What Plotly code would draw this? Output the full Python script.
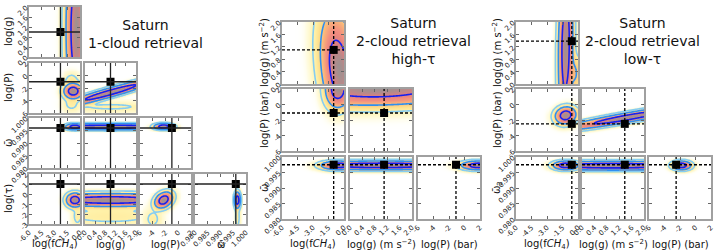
import numpy as np
import plotly.graph_objects as go

W, H = 717, 252

# ---------------- data ----------------
RANGES = {'f': [-6, 0], 'g': [0, 2], 'P': [-6, 2], 'w': [0.98, 1.0], 't': [-3, 2]}
TICKVALS = {
    'f': [-6, -4.5, -3, -1.5, 0],
    'g': [0, 0.4, 0.8, 1.2, 1.6, 2.0],
    'P': [-6, -4, -2, 0, 2],
    'w': [0.98, 0.985, 0.99, 0.995, 1.0],
    't': [-3, -2, -1, 0, 1, 2],
}
TICKTEXT = {
    'f': ['-6.0', '-4.5', '-3.0', '-1.5', '0.0'],
    'g': ['0.0', '0.4', '0.8', '1.2', '1.6', '2.0'],
    'P': ['-6', '-4', '-2', '0', '2'],
    'w': ['0.980', '0.985', '0.990', '0.995', '1.000'],
    't': ['-3', '-2', '-1', '0', '1', '2'],
}

# titles
TITLE_1 = "Saturn<br>1-cloud retrieval"
TITLE_2 = "Saturn<br>2-cloud retrieval<br>high-τ"
TITLE_3 = "Saturn<br>2-cloud retrieval<br>low-τ"

# axis labels
LAB_1 = {'f': "log(f<i>CH</i><sub>4</sub>)", 'g': "log(g)", 'P': "log(P)", 'w': "ω̄", 't': "log(τ)"}
LAB_2 = {'f': "log(f<i>CH</i><sub>4</sub>)", 'g': "log(g) (m s<sup>−2</sup>)", 'P': "log(P) (bar)", 'w': "ω̄"}
LAB_3 = {'f': "log(f<i>CH</i><sub>4</sub>)", 'g': "log(g) (m s<sup>−2</sup>)", 'P': "log(P) (bar)", 'w': "ω̄<sub>2</sub>"}

# true values (marker / crosshair)
TRUTH_1 = {'f': -2.3, 'g': 1.0, 'P': -1.0, 'w': 0.996, 't': 1.0}
TRUTH_2 = {'f': -1.0, 'g': 1.1, 'P': -1.1, 'w': 0.9975}
TRUTH_3 = {'f': -0.6, 'g': 1.38, 'P': -2.5, 'w': 0.9975}

# posterior density blobs per panel: (y var, x var) -> [(mx, my, sx, sy, rho, weight)]
POST_1 = {
    ('g', 'f'): [(-0.45, 1.1, 0.6, 1.7, 0.0, 1.0)],
    ('P', 'f'): [(-0.8, -2.5, 0.55, 0.6, 0.0, 1.0), (-1.0, -4.6, 0.6, 0.7, 0.0, 0.03), (-1.0, -0.8, 0.5, 0.7, 0.0, 0.04)],
    ('P', 'g'): [(1.0, -2.7, 1.0, 1.2, 0.95, 1.0), (1.0, -5.0, 1.2, 0.5, 0.0, 0.025)],
    ('w', 'f'): [(-0.6, 0.9965, 0.55, 0.0006, 0.0, 1.0)],
    ('w', 'g'): [(1.0, 0.9965, 1.6, 0.0006, 0.0, 1.0)],
    ('w', 'P'): [(-2.3, 0.9966, 0.75, 0.0006, 0.0, 1.0)],
    ('t', 'f'): [(-0.6, -0.6, 0.5, 0.35, 0.0, 1.0), (-0.3, -2.2, 0.4, 0.7, 0.0, 0.03)],
    ('t', 'g'): [(1.0, -0.6, 1.6, 0.32, 0.0, 1.0), (1.0, -2.2, 1.5, 0.6, 0.0, 0.03)],
    ('t', 'P'): [(-2.3, -0.6, 0.7, 0.4, 0.3, 1.0), (-4.0, -2.5, 0.8, 0.6, 0.0, 0.03)],
    ('t', 'w'): [(0.9966, -0.6, 0.0006, 0.4, 0.0, 1.0), (0.9966, -2.3, 0.0006, 0.7, 0.0, 0.04)],
}
POST_2 = {
    ('g', 'f'): [(-0.5, 0.5, 0.9, 0.9, -0.3, 1.0)],
    ('P', 'f'): [(-0.6, 2.0, 0.6, 1.2, 0.0, 1.0)],
    ('P', 'g'): [(0.9, 2.1, 1.6, 1.1, 0.1, 1.0)],
    ('w', 'f'): [(-0.5, 0.9973, 0.85, 0.0007, 0.0, 1.0)],
    ('w', 'g'): [(1.0, 0.9973, 1.6, 0.0007, 0.0, 1.0)],
    ('w', 'P'): [(1.8, 0.9973, 1.1, 0.0007, 0.0, 1.0)],
}
POST_3 = {
    ('g', 'f'): [(-1.2, 1.2, 0.35, 1.3, 0.15, 1.0), (-0.3, 0.35, 0.3, 0.3, 0.0, 0.15)],
    ('P', 'f'): [(-1.2, -1.4, 0.5, 0.55, 0.1, 1.0)],
    ('P', 'g'): [(1.5, -1.65, 1.1, 0.83, 0.93, 1.0)],
    ('w', 'f'): [(-1.2, 0.9973, 0.6, 0.0007, 0.0, 1.0)],
    ('w', 'g'): [(1.0, 0.9972, 1.6, 0.0007, 0.0, 1.0)],
    ('w', 'P'): [(-1.8, 0.9973, 0.6, 0.0007, 0.0, 1.0)],
}

# ---------------- layout of the three corner plots (pixels) ----------------
PLOTS = [
    dict(vars=['f', 'g', 'P', 'w', 't'], truth=TRUTH_1, post=POST_1, lab=LAB_1, title=TITLE_1,
         cols=[29, 85, 140, 195], rows=[7, 63, 118, 174], w=51, h=50,
         ylab_x=8, title_xy=(145, 34), dash='solid'),
    dict(vars=['f', 'g', 'P', 'w'], truth=TRUTH_2, post=POST_2, lab=LAB_2, title=TITLE_2,
         cols=[282, 350, 418], rows=[22, 89, 157], w=62, h=62,
         ylab_x=264, title_xy=(413, 41), dash='3px,2px'),
    dict(vars=['f', 'g', 'P', 'w'], truth=TRUTH_3, post=POST_3, lab=LAB_3, title=TITLE_3,
         cols=[516, 582, 649], rows=[22, 89, 157], w=62, h=62,
         ylab_x=497, title_xy=(642, 41), dash='3px,2px'),
]

LEVELS = [0.02, 0.14, 0.6]
LEVEL_COLORS = ['#86cdf2', '#2f8ff0', '#1420f0']
CSCALE = [
    [0.0, 'rgba(255,255,255,0)'],
    [0.08, 'rgba(255,252,225,1)'],
    [0.22, '#fff1a8'],
    [0.38, '#fddc88'],
    [0.52, '#f9b77a'],
    [0.7, '#f28c7f'],
    [0.85, '#dc7f80'],
    [1.0, '#a09090'],
]
FONT = "DejaVu Sans"


def density(blobs, xr, yr, n=60):
    x = np.linspace(xr[0], xr[1], n)
    y = np.linspace(yr[0], yr[1], n)
    X, Y = np.meshgrid(x, y)
    Z = np.zeros_like(X)
    for mx, my, sx, sy, rho, wgt in blobs:
        u = (X - mx) / sx
        v = (Y - my) / sy
        q = (u * u - 2 * rho * u * v + v * v) / (1 - rho * rho)
        Z += wgt * np.exp(-0.5 * q)
    Z = Z / Z.max()
    return x, y, Z


fig = go.Figure()
layout = {}
annotations = []
shapes = []
n = 0
for P in PLOTS:
    vs = P['vars']
    nv = len(vs)
    for i in range(1, nv):
        for j in range(i):
            n += 1
            xv, yv = vs[j], vs[i]
            x0 = P['cols'][j]
            y0 = P['rows'][i - 1]
            xd = [x0 / W, (x0 + P['w']) / W]
            yd = [1 - (y0 + P['h']) / H, 1 - y0 / H]
            xk = 'xaxis' if n == 1 else f'xaxis{n}'
            yk = 'yaxis' if n == 1 else f'yaxis{n}'
            xr = 'x' if n == 1 else f'x{n}'
            yr = 'y' if n == 1 else f'y{n}'
            bottom = (i == nv - 1)
            left = (j == 0)
            common = dict(showline=True, linecolor='#a0a0a0', linewidth=1.5, mirror='allticks',
                          ticks='inside', ticklen=3, tickcolor='#666', showgrid=False, zeroline=False,
                          automargin=False, tickangle=-45,
                          tickfont=dict(size=7, family=FONT, color='#222'))
            layout[xk] = dict(domain=xd, anchor=yr, range=RANGES[xv], tickvals=TICKVALS[xv],
                              ticktext=TICKTEXT[xv], showticklabels=bottom, **common)
            layout[yk] = dict(domain=yd, anchor=xr, range=RANGES[yv], tickvals=TICKVALS[yv],
                              ticktext=TICKTEXT[yv], showticklabels=left, **common)
            gx, gy, Z = density(P['post'][(yv, xv)], RANGES[xv], RANGES[yv])
            fig.add_trace(go.Heatmap(x=gx, y=gy, z=Z ** 0.4, zmin=0, zmax=1, colorscale=CSCALE,
                                     zsmooth='best', showscale=False, hoverinfo='skip',
                                     xaxis=xr, yaxis=yr))
            for L, c in zip(LEVELS, LEVEL_COLORS):
                fig.add_trace(go.Contour(x=gx, y=gy, z=Z, autocontour=False,
                                         contours=dict(start=L, end=L, size=1, coloring='none'),
                                         line=dict(color=c, width=1.6, smoothing=1),
                                         showscale=False, hoverinfo='skip', xaxis=xr, yaxis=yr))
            tx, ty = P['truth'][xv], P['truth'][yv]
            lc = '#222' if P['dash'] == 'solid' else '#000'
            shapes.append(dict(type='line', xref=xr, yref=yr, x0=tx, x1=tx,
                               y0=RANGES[yv][0], y1=RANGES[yv][1],
                               line=dict(color=lc, width=1.3, dash=P['dash'])))
            shapes.append(dict(type='line', xref=xr, yref=yr, y0=ty, y1=ty,
                               x0=RANGES[xv][0], x1=RANGES[xv][1],
                               line=dict(color=lc, width=1.3, dash=P['dash'])))
            fig.add_trace(go.Scatter(x=[tx], y=[ty], mode='markers',
                                     marker=dict(symbol='square', size=8, color='black'),
                                     hoverinfo='skip', xaxis=xr, yaxis=yr, cliponaxis=False))
            if left:
                annotations.append(dict(text=P['lab'][yv], x=P['ylab_x'] / W,
                                        y=1 - (y0 + P['h'] / 2) / H, xref='paper', yref='paper',
                                        xanchor='center', yanchor='middle',
                                        showarrow=False, textangle=-90,
                                        font=dict(size=10, family=FONT, color='#111')))
            if bottom:
                annotations.append(dict(text=P['lab'][xv], x=(x0 + P['w'] / 2) / W,
                                        y=1 - 244 / H, xref='paper', yref='paper',
                                        xanchor='center', yanchor='middle',
                                        showarrow=False,
                                        font=dict(size=10, family=FONT, color='#111')))
    tx_, ty_ = P['title_xy']
    annotations.append(dict(text=P['title'], x=tx_ / W, y=1 - ty_ / H, xref='paper', yref='paper',
                            xanchor='center', yanchor='middle',
                            showarrow=False, align='center',
                            font=dict(size=14, family=FONT, color='#111')))

fig.update_layout(width=W, height=H, margin=dict(l=0, r=0, t=0, b=0),
                  paper_bgcolor='white', plot_bgcolor='white', showlegend=False,
                  annotations=annotations, shapes=shapes, **layout)
fig.write_html("out.html", config={'displayModeBar': False},
               post_script="document.body.style.margin='0px';")
